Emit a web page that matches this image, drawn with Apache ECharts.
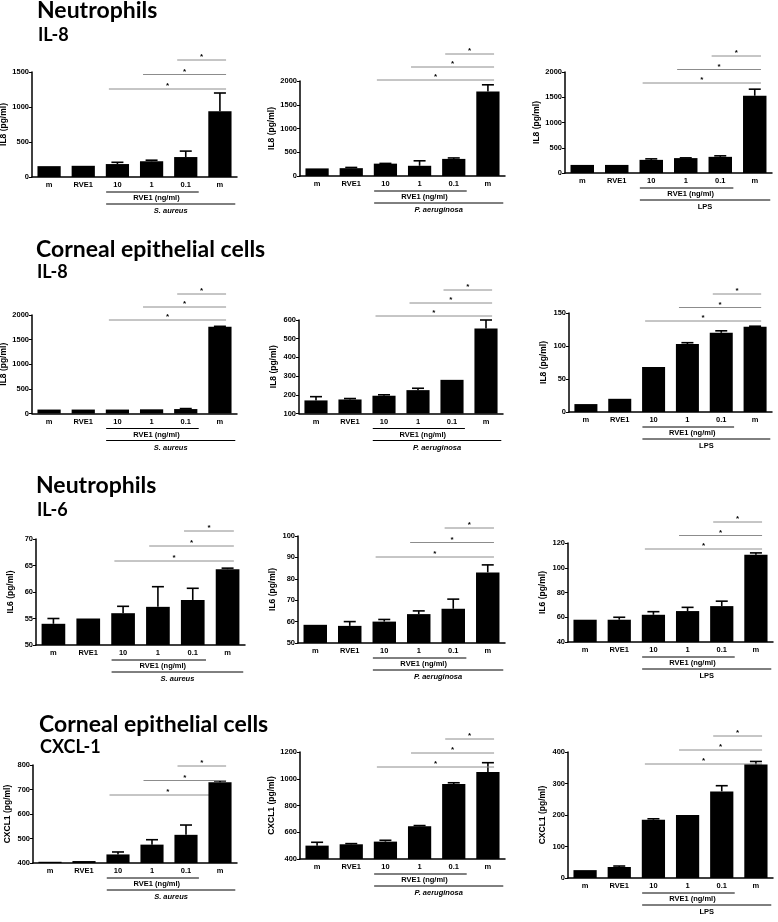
<!DOCTYPE html>
<html><head><meta charset="utf-8">
<script src="https://cdn.jsdelivr.net/npm/echarts@6/dist/echarts.min.js"></script>
<style>html,body{margin:0;padding:0;background:#fff}#c{width:778px;height:922px}</style>
</head><body><div id="c"></div>
<script>
// ---------- data ----------
const categories = ['m', 'RVE1', '10', '1', '0.1', 'm'];
const doseLabel = 'RVE1 (ng/ml)';
const stimuli = ['S. aureus', 'P. aeruginosa', 'LPS'];

const rowTitles = ['Neutrophils', 'Corneal epithelial cells', 'Neutrophils', 'Corneal epithelial cells'];
const rowSubtitles = ['IL-8', 'IL-8', 'IL-6', 'CXCL-1'];
const rowYNames = ['IL8 (pg/ml)', 'IL8 (pg/ml)', 'IL6 (pg/ml)', 'CXCL1 (pg/ml)'];

// Neutrophils IL-8
const neuIL8_SA = [155, 160, 185, 225, 285, 940];
const neuIL8_SA_err = [0, 0, 25, 15, 85, 260];
const neuIL8_PA = [160, 165, 260, 215, 360, 1780];
const neuIL8_PA_err = [0, 15, 5, 105, 20, 140];
const neuIL8_LPS = [160, 160, 260, 295, 320, 1530];
const neuIL8_LPS_err = [0, 0, 20, 5, 20, 130];
// Corneal epithelial cells IL-8
const corIL8_SA = [80, 80, 80, 85, 90, 1760];
const corIL8_SA_err = [0, 0, 0, 0, 10, 10];
const corIL8_PA = [170, 175, 195, 225, 280, 555];
const corIL8_PA_err = [20, 5, 5, 10, 0, 45];
const corIL8_LPS = [12, 20, 68, 103, 120, 129];
const corIL8_LPS_err = [0, 0, 0, 2, 3, 1];
// Neutrophils IL-6
const neuIL6_SA = [54, 55, 56, 57.2, 58.5, 64.3];
const neuIL6_SA_err = [1, 0, 1.3, 3.8, 2.2, 0.2];
const neuIL6_PA = [58.5, 58, 60, 63.5, 66, 83];
const neuIL6_PA_err = [0, 2, 1, 1.5, 4.5, 3.5];
const neuIL6_LPS = [58, 58, 62, 65, 69, 110.5];
const neuIL6_LPS_err = [0, 2, 2.5, 3, 4, 1.5];
// Corneal epithelial cells CXCL-1
const corCXCL1_SA = [405, 408, 435, 475, 515, 730];
const corCXCL1_SA_err = [0, 0, 10, 20, 40, 5];
const corCXCL1_PA = [500, 510, 530, 645, 960, 1050];
const corCXCL1_PA_err = [25, 5, 10, 5, 10, 70];
const corCXCL1_LPS = [25, 35, 185, 200, 275, 360];
const corCXCL1_LPS_err = [0, 3, 3, 0, 18, 10];

// y axis ranges (tick values)
const yMins = [0, 0, 0, 0, 100, 0, 50, 50, 40, 400, 400, 0];
const yMaxs = [1500, 2000, 2000, 2000, 600, 150, 70, 100, 120, 800, 1200, 400];
const yIntervals = [500, 500, 500, 500, 100, 50, 5, 10, 20, 100, 200, 100];

// significance comparisons: from category index -> last category
const sigFrom = [4, 3, 2];

const values = [neuIL8_SA, neuIL8_PA, neuIL8_LPS, corIL8_SA, corIL8_PA, corIL8_LPS,
  neuIL6_SA, neuIL6_PA, neuIL6_LPS, corCXCL1_SA, corCXCL1_PA, corCXCL1_LPS];
const errors = [neuIL8_SA_err, neuIL8_PA_err, neuIL8_LPS_err, corIL8_SA_err, corIL8_PA_err, corIL8_LPS_err,
  neuIL6_SA_err, neuIL6_PA_err, neuIL6_LPS_err, corCXCL1_SA_err, corCXCL1_PA_err, corCXCL1_LPS_err];

// ---------- layout ----------
const layout = [
  {left: 32, right: 237, top: 72, bottom: 177, sig: 60, gap: 14.5},
  {left: 300, right: 505, top: 81, bottom: 176, sig: 54, gap: 13},
  {left: 565, right: 772, top: 72, bottom: 173, sig: 56, gap: 13.5},
  {left: 32, right: 237, top: 315, bottom: 413.5, sig: 294, gap: 13},
  {left: 299, right: 503, top: 320, bottom: 413.5, sig: 290, gap: 13},
  {left: 569, right: 772, top: 313, bottom: 412, sig: 294, gap: 13.5},
  {left: 36, right: 245, top: 539, bottom: 645, sig: 531, gap: 15},
  {left: 298, right: 505, top: 536, bottom: 643, sig: 528, gap: 14.5},
  {left: 568, right: 773, top: 543, bottom: 642, sig: 522, gap: 13.5},
  {left: 33, right: 237, top: 765, bottom: 863, sig: 766, gap: 14.5},
  {left: 300, right: 505, top: 752, bottom: 859, sig: 739, gap: 14},
  {left: 568, right: 773, top: 752, bottom: 878, sig: 736, gap: 14}
];
const titleRows = [
  {x: 37, y1: 11, y2: 35},
  {x: 36, y1: 250, y2: 272},
  {x: 36, y1: 486, y2: 510},
  {x: 39, y1: 725, y2: 747}
];
const TICK_FONT = 'Liberation Sans';

const chart = echarts.init(document.getElementById('c'), null, {renderer: 'canvas'});

const grids = [], xAxes = [], yAxes = [], series = [];
layout.forEach((L, i) => {
  const row = Math.floor(i / 3), col = i % 3;
  grids.push({left: L.left, top: L.top, width: L.right - L.left, height: L.bottom - L.top,
    containLabel: false, outerBoundsMode: 'none'});
  xAxes.push({
    type: 'category', gridIndex: i, data: categories,
    axisLine: {onZero: false, lineStyle: {color: '#000', width: 1.5}},
    axisTick: {alignWithLabel: true, length: 3, lineStyle: {color: '#000', width: 1}},
    axisLabel: {color: '#000', fontFamily: TICK_FONT, fontWeight: 'bold', fontSize: 7.5, margin: 4, interval: 0}
  });
  yAxes.push({
    type: 'value', gridIndex: i, min: yMins[i], max: yMaxs[i], interval: yIntervals[i],
    name: rowYNames[row], nameLocation: 'middle', nameGap: 21,
    nameTextStyle: {color: '#000', fontFamily: TICK_FONT, fontWeight: 'bold', fontSize: 8.5},
    axisLine: {show: true, lineStyle: {color: '#000', width: 1.5}},
    axisTick: {show: true, length: 3, lineStyle: {color: '#000', width: 1}},
    splitLine: {show: false},
    axisLabel: {color: '#000', fontFamily: TICK_FONT, fontWeight: 'bold', fontSize: 7.5, margin: 3,
      formatter: v => String(v)}
  });
  series.push({
    type: 'bar', xAxisIndex: i, yAxisIndex: i, data: values[i], barWidth: '68%',
    itemStyle: {color: '#000'}, silent: true, animation: false
  });
  const errData = values[i].map((v, k) => [k, v, v + errors[i][k]]);
  series.push({
    type: 'custom', xAxisIndex: i, yAxisIndex: i, data: errData, clip: false, animation: false,
    encode: {x: 0, y: 2},
    renderItem: function (params, api) {
      const k = api.value(0), v = api.value(1), t = api.value(2);
      if (t <= v) return null;
      const p0 = api.coord([k, v]), p1 = api.coord([k, t]);
      return {type: 'group', children: [
        {type: 'line', shape: {x1: p0[0], y1: p0[1], x2: p1[0], y2: p1[1]}, style: {stroke: '#000', lineWidth: 1.6}},
        {type: 'line', shape: {x1: p1[0] - 6, y1: p1[1], x2: p1[0] + 6, y2: p1[1]}, style: {stroke: '#000', lineWidth: 1.6}}
      ]};
    }
  });
  const stim = stimuli[col];
  series.push({
    type: 'custom', xAxisIndex: i, yAxisIndex: i, data: [[0, yMins[i]]], clip: false, animation: false,
    renderItem: function (params, api) {
      const cs = params.coordSys;
      const w = cs.width / categories.length;
      const cx = k => api.coord([k, yMins[i]])[0];
      const bottom = cs.y + cs.height;
      const ch = [];
      sigFrom.forEach((s, n) => {
        const y = L.sig + n * L.gap;
        const x1 = cx(s) - 0.25 * w, x2 = cx(categories.length - 1) + 0.18 * w;
        ch.push({type: 'line', shape: {x1: x1, y1: y, x2: x2, y2: y}, style: {stroke: '#8c8c8c', lineWidth: 1}});
        ch.push({type: 'text', x: (x1 + x2) / 2, y: y + 1,
          style: {text: '*', fill: '#000', font: 'bold 8px ' + TICK_FONT, align: 'center', verticalAlign: 'bottom'}});
      });
      const bx1 = cx(2) - 0.33 * w, bx2 = cx(4) + 0.38 * w, bx3 = cx(5) + 0.45 * w;
      const yb1 = bottom + 15, yb2 = bottom + 27;
      ch.push({type: 'line', shape: {x1: bx1, y1: yb1, x2: bx2, y2: yb1}, style: {stroke: '#000', lineWidth: 1}});
      ch.push({type: 'text', x: (bx1 + bx2) / 2 + 4, y: bottom + 21,
        style: {text: doseLabel, fill: '#000', font: 'bold 7.5px ' + TICK_FONT, align: 'center', verticalAlign: 'middle'}});
      ch.push({type: 'line', shape: {x1: bx1, y1: yb2, x2: bx3, y2: yb2}, style: {stroke: '#000', lineWidth: 1}});
      ch.push({type: 'text', x: (bx1 + bx3) / 2, y: bottom + 34,
        style: {text: stim, fill: '#000', font: (stim === 'LPS' ? '' : 'italic ') + 'bold 7.5px ' + TICK_FONT,
          align: 'center', verticalAlign: 'middle'}});
      return {type: 'group', children: ch};
    }
  });
});

const graphics = [];
titleRows.forEach((T, r) => {
  graphics.push({type: 'text', x: T.x, y: T.y1,
    style: {text: rowTitles[r], font: 'bold 23px Lato', fill: '#000', verticalAlign: 'middle'}});
  graphics.push({type: 'text', x: T.x + 1, y: T.y2,
    style: {text: rowSubtitles[r], font: 'bold 18px Lato', fill: '#000', verticalAlign: 'middle'}});
});

chart.setOption({
  animation: false,
  backgroundColor: '#fff',
  grid: grids, xAxis: xAxes, yAxis: yAxes, series: series,
  graphic: graphics
});
</script></body></html>
